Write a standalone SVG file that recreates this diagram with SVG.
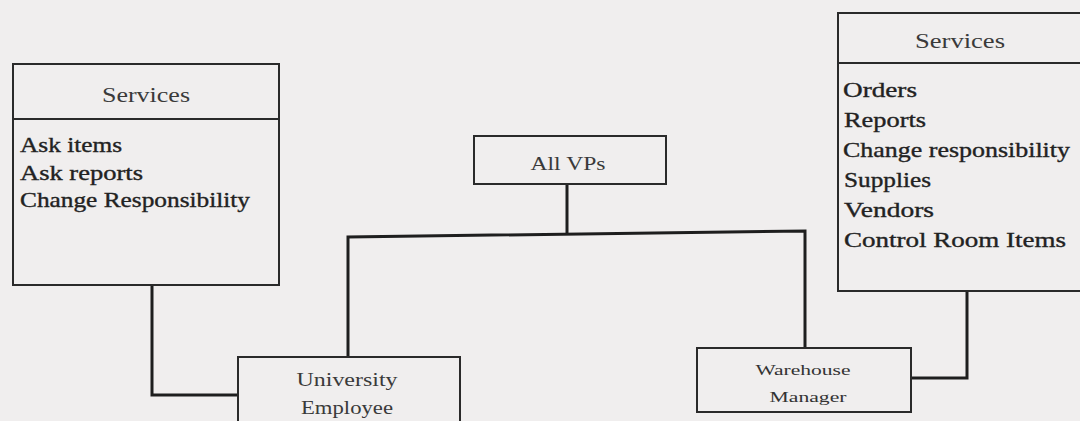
<svg xmlns="http://www.w3.org/2000/svg" width="1080" height="421" viewBox="0 0 1080 421">
  <style>
    .box { fill: none; stroke: #2a2a2a; stroke-width: 2; }
    .conn { fill: none; stroke: #1e1e1e; stroke-width: 3; stroke-linejoin: miter; }
    text { font-family: "Liberation Serif", "Times New Roman", serif; fill: #222; }
    .hd { font-size: 20px; text-anchor: middle; fill: #3a3a3a; }
    .it { font-size: 21px; stroke: #222; stroke-width: 0.35; }
    .nm { font-size: 19px; text-anchor: middle; fill: #3a3a3a; }
    .sm { font-size: 15px; text-anchor: middle; fill: #333; }
  </style>
  <rect x="0" y="0" width="1080" height="421" fill="#f0eeee"/>

  <g id="connectors">
    <polyline class="conn" points="152,285 152,395 238,395"/>
    <polyline class="conn" points="567,184 567,234"/>
    <polyline class="conn" points="348,357 348,237 805,231 805,348"/>
    <polyline class="conn" points="911,378 967,378 967,291"/>
  </g>

  <g id="services-left">
    <rect class="box" x="13" y="64" width="266" height="221"/>
    <line class="box" x1="13" y1="119" x2="279" y2="119"/>
    <text class="hd" x="146" y="102" textLength="88" lengthAdjust="spacingAndGlyphs">Services</text>
    <text class="it" x="20" y="152" textLength="102" lengthAdjust="spacingAndGlyphs">Ask items</text>
    <text class="it" x="20" y="180" textLength="123" lengthAdjust="spacingAndGlyphs">Ask reports</text>
    <text class="it" x="20" y="207" textLength="230" lengthAdjust="spacingAndGlyphs">Change Responsibility</text>
  </g>

  <g id="services-right">
    <rect class="box" x="838" y="13" width="260" height="278"/>
    <line class="box" x1="838" y1="63" x2="1080" y2="63"/>
    <text class="hd" x="960" y="48" textLength="90" lengthAdjust="spacingAndGlyphs">Services</text>
    <text class="it" x="843" y="97" textLength="74" lengthAdjust="spacingAndGlyphs">Orders</text>
    <text class="it" x="844" y="127" textLength="82" lengthAdjust="spacingAndGlyphs">Reports</text>
    <text class="it" x="843" y="157" textLength="227" lengthAdjust="spacingAndGlyphs">Change responsibility</text>
    <text class="it" x="844" y="187" textLength="87" lengthAdjust="spacingAndGlyphs">Supplies</text>
    <text class="it" x="844" y="217" textLength="90" lengthAdjust="spacingAndGlyphs">Vendors</text>
    <text class="it" x="844" y="247" textLength="222" lengthAdjust="spacingAndGlyphs">Control Room Items</text>
  </g>

  <g id="all-vps">
    <rect class="box" x="474" y="136" width="192" height="48"/>
    <text class="nm" x="568" y="170" textLength="75" lengthAdjust="spacingAndGlyphs">All VPs</text>
  </g>

  <g id="university-employee">
    <rect class="box" x="238" y="357" width="222" height="80"/>
    <text class="nm" x="347" y="386" textLength="101" lengthAdjust="spacingAndGlyphs">University</text>
    <text class="nm" x="347" y="414" textLength="92" lengthAdjust="spacingAndGlyphs">Employee</text>
  </g>

  <g id="warehouse-manager">
    <rect class="box" x="697" y="348" width="214" height="64"/>
    <text class="sm" x="803" y="375" textLength="95" lengthAdjust="spacingAndGlyphs">Warehouse</text>
    <text class="sm" x="808" y="402" textLength="77" lengthAdjust="spacingAndGlyphs">Manager</text>
  </g>
</svg>
